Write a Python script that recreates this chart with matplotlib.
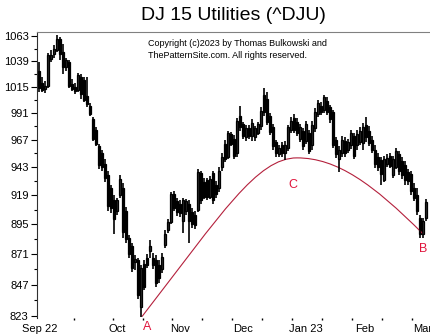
import matplotlib
matplotlib.use("Agg")
import matplotlib.pyplot as plt
from matplotlib.path import Path
from matplotlib.patches import PathPatch
from matplotlib.ticker import FixedLocator, NullFormatter, FixedFormatter

plt.rcParams["font.family"] = ["Liberation Sans", "DejaVu Sans"]

# daily candles, Aug 25 2022 .. Mar 2023 (trading-day index)
opens = [1030, 1018, 1013, 1016, 1041, 1046, 1050, 1060, 1048, 1033,
         1038, 1017, 1015, 1012, 1024, 1021, 1006, 997, 985, 976,
         961, 955, 946, 936, 925, 915, 906, 919, 925, 906,
         884, 877, 865, 866, 830, 863, 868, 873, 868, 866,
         862, 859, 878, 890, 897, 920, 914, 912, 898, 906,
         912, 905, 903, 907, 938, 930, 932, 918, 938, 928,
         925, 943, 963, 952, 972, 968, 955, 988, 981, 969,
         977, 970, 969, 973, 979, 1007, 1004, 988, 978, 965,
         954, 962, 955, 960, 976, 986, 983, 968, 975, 966,
         973, 962, 977, 990, 997, 994, 1002, 996, 992, 967,
         950, 955, 966, 958, 962, 970, 962, 965, 964, 980,
         975, 967, 958, 952, 949, 932, 946, 953, 936, 943,
         954, 948, 945, 939, 937, 925, 919, 900, 887, 900]
highs = [1038, 1024, 1020, 1047, 1050, 1054, 1064, 1062, 1055, 1042,
         1040, 1022, 1018, 1028, 1027, 1024, 1024, 1000, 987, 978,
         963, 958, 950, 940, 928, 919, 917, 936, 929, 909,
         886, 880, 870, 868, 862, 866, 871, 882, 872, 870,
         866, 872, 890, 899, 922, 923, 917, 915, 917, 916,
         915, 908, 906, 941, 940, 934, 934, 935, 940, 931,
         943, 955, 967, 975, 974, 971, 986, 997, 983, 980,
         980, 985, 979, 983, 996, 1014, 1010, 991, 981, 967,
         962, 965, 966, 980, 987, 990, 986, 981, 977, 984,
         976, 984, 995, 1003, 1001, 1007, 1005, 998, 994, 969,
         961, 970, 969, 968, 976, 973, 976, 978, 982, 987,
         979, 970, 962, 955, 952, 953, 954, 955, 953, 960,
         957, 952, 948, 941, 940, 929, 925, 903, 900, 916]
lows = [1010, 1010, 1009, 1014, 1038, 1042, 1048, 1040, 1027, 1030,
        1014, 1011, 1008, 1010, 1004, 1001, 996, 988, 966, 961,
        941, 940, 930, 906, 904, 887, 903, 917, 884, 880,
        868, 857, 858, 836, 822.5, 843, 860, 868, 859, 845,
        848, 856, 876, 888, 895, 906, 902, 901, 888, 903,
        880, 892, 891, 905, 912, 916, 915, 916, 912, 917,
        922, 940, 947, 950, 961, 950, 952, 975, 968, 966,
        968, 966, 966, 971, 976, 988, 980, 971, 958, 952,
        952, 952, 949, 957, 973, 973, 970, 965, 958, 963,
        954, 958, 974, 987, 989, 991, 989, 982, 960, 951,
        939, 952, 952, 955, 959, 950, 958, 962, 958, 965,
        961, 955, 942, 940, 928, 930, 943, 942, 934, 941,
        936, 933, 928, 928, 919, 914, 903, 884, 884, 898]
closes = [1014, 1012, 1016, 1045, 1045, 1051, 1060, 1046, 1033, 1040,
          1016, 1013, 1011, 1026, 1008, 1003, 999, 990, 968, 963,
          945, 943, 934, 910, 908, 899, 915, 933, 889, 883,
          871, 860, 867, 839, 860, 845, 862, 877, 862, 848,
          852, 869, 887, 897, 920, 908, 905, 904, 915, 914,
          898, 895, 894, 939, 915, 918, 918, 933, 915, 920,
          940, 952, 950, 973, 963, 953, 984, 978, 970, 977,
          970, 982, 977, 981, 993, 992, 983, 974, 961, 955,
          960, 955, 962, 978, 984, 976, 973, 978, 961, 981,
          957, 980, 992, 1000, 992, 1005, 992, 985, 962, 954,
          958, 967, 955, 965, 973, 953, 972, 975, 978, 969,
          964, 958, 946, 943, 937, 950, 951, 944, 950, 957,
          940, 936, 932, 931, 923, 917, 906, 887, 898, 913]

# hand-drawn arc A -> C -> B as two cubic Bezier pieces (day index, price)
arc_day = [34.3, 61.0, 72.7, 86.0, 99.3, 111.3, 128.0]
arc_price = [822.5, 904.2, 951.0, 951.0, 951.0, 928.7, 887.2]

ytick_vals = [823, 847, 871, 895, 919, 943, 967, 991, 1015, 1039, 1063]
month_labels = ["Sep 22", "Oct", "Nov", "Dec", "Jan 23", "Feb", "Mar"]
month_pos = [0.3, 26.0, 47.0, 68.0, 89.0, 108.5, 128.0]

fig = plt.figure(figsize=(4.31, 3.34), dpi=100)
ax = fig.add_axes([37 / 431, 16 / 334, 394 / 431, 286 / 334])
ax.set_yscale("log")

days = list(range(len(closes)))
ax.vlines(days, lows, highs, color="black", linewidth=1.2)
for d, o, c in zip(days, opens, closes):
    face = "white" if c >= o else "black"
    ax.bar(d, max(abs(c - o), 0.6), bottom=min(o, c),
           width=0.95, color=face, edgecolor="black", linewidth=0.9)

arc = Path(list(zip(arc_day, arc_price)),
           [Path.MOVETO, Path.CURVE4, Path.CURVE4, Path.CURVE4,
            Path.CURVE4, Path.CURVE4, Path.CURVE4])
ax.add_patch(PathPatch(arc, facecolor="none", edgecolor="#b4203c", linewidth=0.8))
ax.text(36.0, 815, "A", color="#e0143c", fontsize=9, ha="center", va="center")
ax.text(84.7, 928, "C", color="#e0143c", fontsize=9, ha="center", va="center")
ax.text(128.0, 875, "B", color="#e0143c", fontsize=9, ha="center", va="center")

ax.set_xlim(-0.67, 130.67)
ax.set_ylim(821.5, 1067)

ax.yaxis.set_major_locator(FixedLocator(ytick_vals))
ax.yaxis.set_major_formatter(FixedFormatter([str(v) for v in ytick_vals]))
ax.yaxis.set_minor_locator(FixedLocator([v + 12 for v in ytick_vals[:-1]]))
ax.yaxis.set_minor_formatter(NullFormatter())
ax.tick_params(axis="y", which="major", length=4, width=0.8, labelsize=8, pad=2)
ax.tick_params(axis="y", which="minor", length=2, width=0.8)

ax.xaxis.set_major_locator(FixedLocator(month_pos))
ax.xaxis.set_major_formatter(FixedFormatter(month_labels))
ax.xaxis.set_minor_locator(FixedLocator([11.7, 24.7, 34.5, 44.3, 54.3, 64.3, 74.3,
                                         84.3, 94.3, 104.3, 114.3, 124.3]))
ax.tick_params(axis="x", which="major", length=0, labelsize=8, pad=4)
ax.tick_params(axis="x", which="minor", length=1.5, width=1)

for side in ("right", "bottom"):
    ax.spines[side].set_visible(False)
ax.spines["top"].set_color("#808080")
ax.spines["left"].set_color("#303030")

fig.text(233 / 431, 1 - 16 / 334, "DJ 15 Utilities (^DJU)", fontsize=14,
         ha="center", va="center")
fig.text(148 / 431, 1 - 44 / 334, "Copyright (c)2023 by Thomas Bulkowski and",
         fontsize=6.5, ha="left", va="center")
fig.text(148 / 431, 1 - 55 / 334, "ThePatternSite.com. All rights reserved.",
         fontsize=6.5, ha="left", va="center")

fig.savefig("out.png", dpi=100)
